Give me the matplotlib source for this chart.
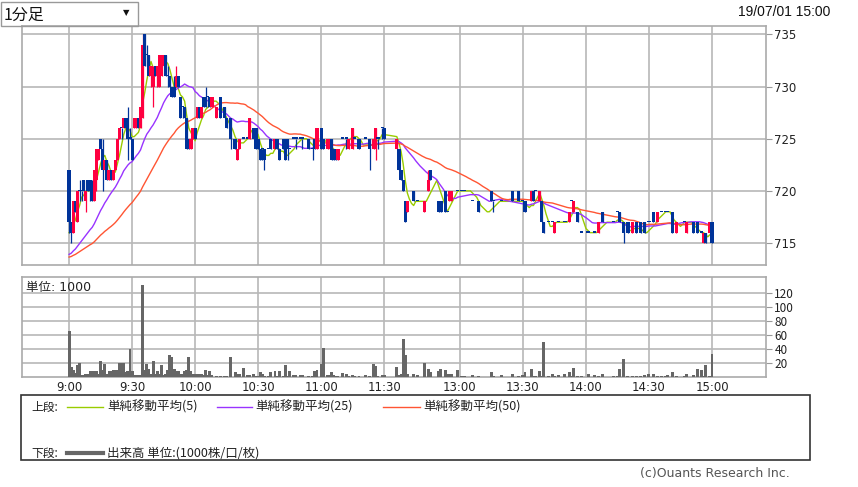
import matplotlib.pyplot as plt
import matplotlib.patches as mpatches
import numpy as np
import pandas as pd

plt.rcParams['font.family'] = ['Noto Sans CJK JP', 'DejaVu Sans']

W, H = 858, 487

# minute index: 0 = 9:00, 150 = 11:30, 156 = 12:30, 306 = 15:00
bar_idx = [
    0, 1, 2, 3, 4, 5, 6, 7, 8, 9,
    10, 11, 12, 13, 14, 15, 16, 17, 18, 19,
    20, 21, 22, 23, 24, 25, 26, 27, 28, 29,
    30, 31, 32, 33, 34, 35, 36, 37, 38, 39,
    40, 41, 42, 43, 44, 45, 46, 47, 48, 49,
    50, 51, 52, 53, 54, 55, 56, 57, 58, 59,
    60, 61, 62, 63, 64, 65, 66, 67, 68, 70,
    72, 74, 75, 77, 79, 80, 81, 83, 85, 86,
    88, 89, 90, 91, 92, 93, 95, 96, 98, 99,
    100, 102, 103, 104, 105, 107, 108, 110, 111, 114,
    116, 117, 118, 120, 121, 123, 124, 125, 126, 127,
    128, 130, 132, 133, 135, 136, 138, 141, 143, 145,
    146, 147, 149, 150,
    156, 157, 158, 159, 160, 161, 164, 166, 169, 171,
    172, 176, 177, 179, 180, 181, 182, 185, 187, 188,
    192, 195, 201, 202, 206, 211, 214, 216, 217, 220,
    221, 222, 224, 225, 226, 228, 230, 231, 233, 236,
    238, 239, 240, 242, 244, 247, 250, 252, 254, 259,
    261, 262, 264, 266, 268, 270, 272, 274, 276, 278,
    280, 282, 284, 285, 287, 289, 293, 294, 297, 299,
    301, 302, 303, 305, 306,
]
opens = [
    722, 717, 716, 719, 717, 720, 720, 721, 719, 721,
    721, 720, 719, 721, 723, 725, 724, 722, 723, 721,
    722, 721, 722, 723, 725, 726, 726, 727, 727, 725,
    725, 726, 726, 727, 726, 727, 735, 733, 733, 731,
    730, 732, 731, 730, 731, 732, 733, 731, 731, 730,
    730, 730, 731, 729, 728, 728, 727, 725, 724, 725,
    726, 727, 728, 727, 729, 729, 729, 729, 728, 727,
    729, 728, 727, 727, 725, 723, 724, 725, 725, 725,
    726, 726, 725, 724, 724, 724, 724, 725, 724, 725,
    724, 725, 725, 725, 724, 725, 725, 725, 725, 725,
    724, 725, 724, 726, 725, 724, 724, 725, 724, 724,
    723, 725, 725, 724, 724, 725, 725, 725, 725, 724,
    724, 725, 726, 726,
    724, 724, 722, 721, 719, 718, 720, 719, 718, 720,
    722, 719, 719, 720, 718, 719, 719, 720, 720, 720,
    719, 719, 720, 719, 719, 720, 720, 719, 719, 719,
    720, 720, 719, 719, 717, 717, 717, 716, 717, 717,
    717, 719, 718, 718, 716, 716, 716, 716, 718, 717,
    718, 718, 717, 717, 716, 717, 717, 717, 717, 718,
    717, 718, 718, 718, 718, 716, 717, 716, 717, 717,
    716, 715, 716, 716, 717,
]
highs = [
    722, 717, 719, 719, 720, 721, 720, 721, 720, 721,
    721, 721, 722, 724, 724, 725, 725, 723, 723, 722,
    722, 722, 723, 725, 726, 726, 727, 727, 728, 726,
    725, 727, 727, 727, 728, 735, 735, 734, 733, 732,
    732, 732, 732, 733, 733, 733, 733, 732, 731, 730,
    731, 732, 731, 729, 728, 728, 727, 725, 725, 726,
    726, 728, 728, 728, 729, 730, 729, 729, 729, 728,
    729, 728, 727, 727, 725, 724, 725, 725, 725, 727,
    726, 726, 725, 724, 724, 724, 724, 725, 725, 725,
    724, 725, 725, 725, 724, 725, 725, 725, 725, 725,
    725, 725, 726, 726, 725, 725, 725, 725, 724, 724,
    724, 725, 725, 725, 726, 725, 725, 725, 725, 725,
    726, 725, 726, 726,
    725, 724, 722, 721, 719, 719, 720, 719, 719, 722,
    722, 719, 719, 720, 718, 720, 720, 720, 720, 720,
    719, 719, 720, 719, 719, 720, 720, 719, 719, 720,
    720, 720, 720, 719, 717, 717, 717, 717, 717, 717,
    718, 719, 719, 718, 716, 716, 716, 717, 718, 717,
    718, 718, 717, 717, 717, 717, 717, 717, 717, 718,
    718, 718, 718, 718, 718, 717, 717, 717, 717, 717,
    716, 716, 716, 717, 717,
]
lows = [
    716, 715, 716, 718, 717, 719, 719, 720, 718, 720,
    719, 719, 719, 720, 723, 724, 720, 722, 721, 721,
    721, 721, 722, 723, 725, 725, 726, 726, 723, 725,
    723, 726, 726, 726, 726, 727, 732, 732, 731, 730,
    728, 731, 730, 730, 731, 732, 731, 730, 730, 729,
    729, 730, 730, 727, 727, 727, 724, 724, 724, 725,
    725, 727, 727, 727, 728, 728, 728, 728, 728, 727,
    727, 727, 726, 724, 724, 723, 724, 725, 725, 725,
    725, 724, 724, 723, 723, 722, 724, 724, 724, 724,
    723, 724, 723, 723, 724, 725, 724, 725, 724, 724,
    723, 724, 724, 724, 724, 724, 724, 723, 723, 723,
    723, 725, 724, 724, 724, 725, 724, 725, 722, 724,
    723, 724, 725, 725,
    724, 722, 721, 720, 717, 718, 719, 719, 718, 720,
    721, 718, 718, 718, 718, 719, 719, 720, 720, 720,
    719, 718, 719, 718, 719, 719, 719, 719, 718, 719,
    719, 720, 719, 717, 716, 717, 717, 716, 717, 717,
    717, 719, 718, 717, 716, 716, 716, 716, 717, 717,
    718, 717, 715, 716, 716, 716, 716, 716, 717, 717,
    717, 718, 718, 718, 716, 716, 717, 716, 716, 716,
    716, 715, 715, 716, 715,
]
closes = [
    717, 716, 719, 718, 720, 720, 720, 720, 720, 720,
    720, 719, 722, 724, 724, 724, 722, 723, 721, 722,
    721, 722, 723, 725, 726, 726, 727, 726, 725, 725,
    723, 727, 727, 726, 728, 734, 732, 733, 731, 732,
    731, 731, 732, 733, 733, 733, 731, 731, 730, 729,
    729, 731, 730, 727, 728, 727, 724, 724, 725, 726,
    725, 728, 727, 728, 728, 728, 729, 728, 729, 728,
    727, 727, 726, 725, 724, 724, 725, 725, 725, 727,
    725, 724, 724, 723, 724, 723, 724, 724, 725, 724,
    723, 724, 723, 724, 724, 725, 725, 725, 725, 724,
    724, 724, 726, 724, 724, 725, 725, 723, 723, 723,
    724, 725, 725, 725, 726, 725, 724, 725, 724, 725,
    726, 725, 726, 725,
    725, 722, 721, 720, 717, 719, 719, 719, 719, 721,
    721, 718, 718, 718, 718, 720, 720, 720, 720, 720,
    719, 718, 719, 719, 719, 719, 719, 719, 718, 720,
    719, 720, 720, 717, 716, 717, 717, 717, 717, 717,
    718, 719, 719, 717, 716, 716, 716, 717, 717, 717,
    718, 717, 716, 716, 717, 716, 716, 716, 717, 717,
    718, 718, 718, 718, 716, 717, 717, 717, 716, 716,
    716, 716, 715, 717, 715,
]
volumes = [
    66, 15, 10, 6, 17, 20, 3, 3, 4, 5,
    8, 8, 8, 8, 5, 23, 10, 18, 5, 9,
    9, 10, 10, 10, 20, 20, 20, 7, 8, 40,
    8, 3, 3, 3, 3, 131, 10, 18, 11, 5,
    23, 5, 9, 5, 17, 3, 5, 10, 31, 29,
    11, 9, 9, 5, 5, 8, 10, 28, 8, 5,
    5, 5, 5, 4, 3, 10, 3, 8, 3, 1,
    1, 1, 1, 28, 7, 4, 4, 13, 3, 3,
    5, 1, 1, 7, 4, 1, 1, 7, 8, 1,
    8, 1, 17, 1, 8, 3, 3, 3, 3, 1,
    1, 8, 10, 18, 42, 3, 3, 7, 3, 1,
    1, 6, 4, 1, 3, 1, 1, 3, 1, 19,
    16, 1, 3, 3,
    15, 3, 5, 54, 31, 5, 4, 3, 20, 11,
    7, 9, 11, 10, 5, 5, 5, 10, 1, 1,
    3, 1, 7, 1, 3, 4, 1, 3, 7, 11,
    1, 1, 9, 1, 50, 1, 5, 1, 3, 5,
    7, 1, 13, 1, 1, 5, 3, 1, 5, 1,
    1, 11, 26, 1, 1, 1, 1, 3, 4, 4,
    1, 1, 1, 3, 7, 1, 1, 4, 3, 11,
    10, 1, 17, 1, 33,
]
# previous session closes used to seed the moving averages
prev_level = 713.4
prev_tail = [715, 716, 716, 716]

tick_pos = [0, 30, 60, 90, 120, 150, 186, 216, 246, 276, 306]
tick_labels = ['9:00', '9:30', '10:00', '10:30', '11:00', '11:30',
               '13:00', '13:30', '14:00', '14:30', '15:00']
ma_windows = [5, 25, 50]
ma_colors = ['#99cc00', '#9933ff', '#ff5533']

RED = '#ff0040'
BLUE = '#003399'
GRID = '#b8b8b8'


def fx(x):
    return x / W


def fy(y):
    return 1 - y / H


fig = plt.figure(figsize=(W / 100, H / 100), dpi=100)
ax = fig.add_axes([fx(22), fy(265), (766 - 22) / W, (265 - 26) / H])
axv = fig.add_axes([fx(22), fy(377), (766 - 22) / W, (377 - 277) / H])

x = np.array(bar_idx)
o = np.array(opens, float)
h = np.array(highs, float)
l = np.array(lows, float)
c = np.array(closes, float)
colors = np.where(c > o, RED, BLUE)

# moving averages on every trading minute, last close carried forward
session = np.r_[np.arange(0, 151), np.arange(156, 307)]
cs = pd.Series(c, index=x).reindex(session).ffill().to_numpy()
pad = [prev_level] * (50 - len(prev_tail)) + prev_tail
full = pd.Series(np.r_[pad, cs])
for w, col in zip(ma_windows, ma_colors):
    ma = full.rolling(w).mean().to_numpy()[len(pad):]
    ax.plot(session, ma, color=col, lw=1.0, zorder=2)

# candles
ax.vlines(x, l, h, colors=colors, lw=0.9, zorder=3)
body = np.maximum(np.abs(c - o), 0.12)
ax.bar(x, body, bottom=np.minimum(o, c), width=1.5, color=colors, zorder=3)

# volume
axv.bar(x, volumes, width=1.4, color='#666666', zorder=3)

for a in (ax, axv):
    a.set_xlim(-22.4, 331.7)
    a.set_xticks(tick_pos)
    a.grid(True, color=GRID, lw=1.2, zorder=0)
    a.yaxis.tick_right()
    a.tick_params(axis='y', length=4, color='#999999', labelsize=8.5,
                  labelcolor='#222222', pad=2)
    a.tick_params(axis='x', length=0)
    for s in a.spines.values():
        s.set_color('#aaaaaa')
        s.set_linewidth(1.2)
    a.set_axisbelow(True)

ax.set_ylim(712.9, 735.8)
ax.set_yticks([715, 720, 725, 730, 735])
ax.set_xticklabels([])
for t in ax.get_yticklabels():
    t.set_family('DejaVu Sans')

axv.set_ylim(0, 143)
axv.set_yticks([20, 40, 60, 80, 100, 120])
axv.set_xticklabels(tick_labels, fontsize=8.5, color='#222222', family='DejaVu Sans')
axv.tick_params(axis='x', pad=3)
axv.text(0.006, 0.9, '単位: 1000', transform=axv.transAxes, fontsize=9,
         va='center', ha='left', color='#222222', family=['DejaVu Sans', 'Noto Sans CJK JP'])

# header
fig.patches.append(mpatches.Rectangle((fx(1), fy(26)), 137 / W, 24 / H,
                                      transform=fig.transFigure, fill=False,
                                      edgecolor='#999999', lw=1))
fig.text(fx(4), fy(15), '1分足', fontsize=11.5, va='center', color='#111111')
fig.text(fx(126), fy(13), '▼', fontsize=6, va='center', ha='center',
         color='#111111', family='DejaVu Sans')
fig.text(fx(830), fy(12), '19/07/01 15:00', fontsize=10, ha='right', va='center',
         family='Liberation Sans', color='#111111')

# legend box
fig.patches.append(mpatches.Rectangle((fx(21), fy(460)), (810 - 21) / W, 65 / H,
                                      transform=fig.transFigure, fill=False,
                                      edgecolor='#333333', lw=1.2))
fig.text(fx(31), fy(407), '上段:', fontsize=8.5, va='center', color='#222222')
leg_x = [(67, 103, 107), (217, 252, 255), (383, 420, 423)]
for (x0, x1, tx), col, w in zip(leg_x, ma_colors, ma_windows):
    fig.add_artist(plt.Line2D([fx(x0), fx(x1)], [fy(407), fy(407)], color=col, lw=1.0))
    fig.text(fx(tx), fy(407), f'単純移動平均({w})', fontsize=9, va='center', color='#222222')
fig.text(fx(31), fy(453), '下段:', fontsize=8.5, va='center', color='#222222')
fig.add_artist(plt.Line2D([fx(67), fx(103)], [fy(453), fy(453)], color='#666666', lw=3))
fig.text(fx(107), fy(453), '出来高 単位:(1000株/口/枚)', fontsize=9, va='center', color='#222222')

fig.text(fx(790), fy(473), '(c)Ouants Research Inc.', fontsize=9, ha='right',
         va='center', color='#555555', family='DejaVu Sans')

fig.savefig('out.png', dpi=100)
